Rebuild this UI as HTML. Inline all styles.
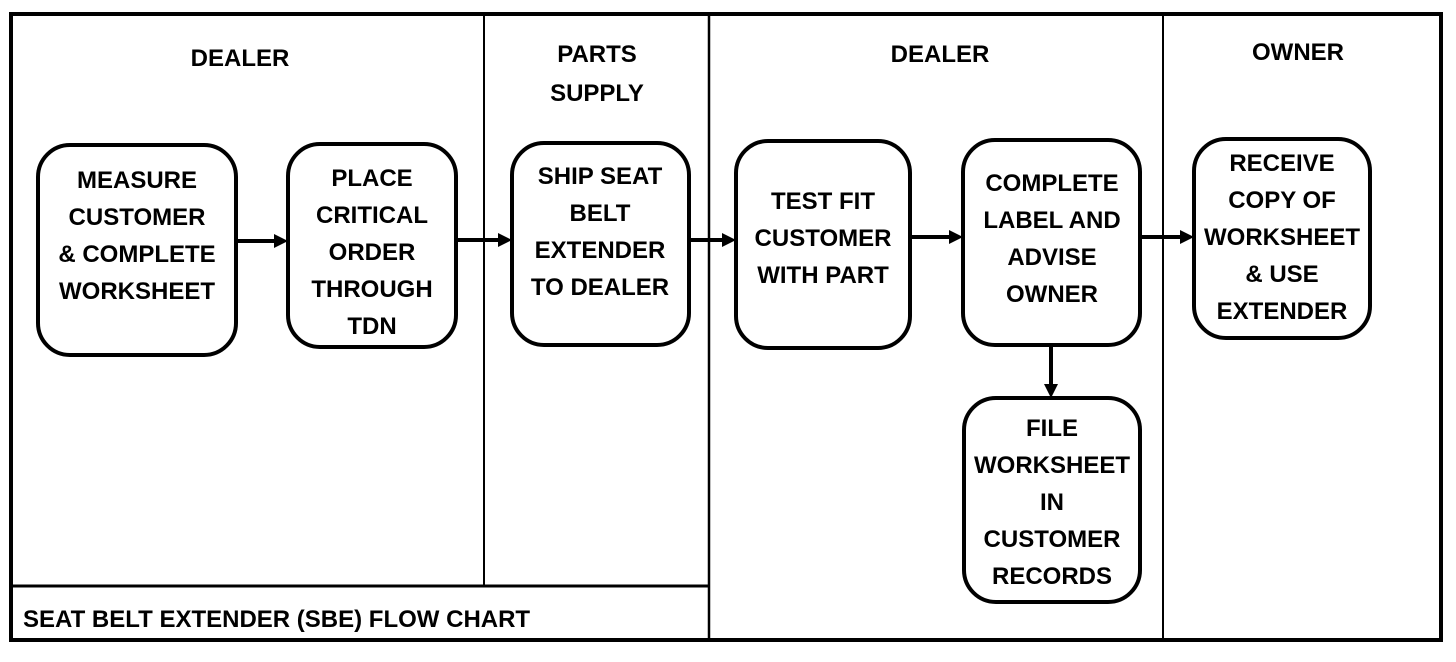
<!DOCTYPE html>
<html><head><meta charset="utf-8"><style>
html,body{margin:0;padding:0;background:#fff;}
svg{display:block;}
text{font-family:"Liberation Sans",Arial,sans-serif;font-weight:bold;font-size:24px;fill:#000;text-anchor:middle;}
</style></head><body>
<svg width="1456" height="662" viewBox="0 0 1456 662" xmlns="http://www.w3.org/2000/svg">
<rect x="11" y="14" width="1430" height="626" fill="none" stroke="#000" stroke-width="4"/>
<line x1="484" y1="14" x2="484" y2="585" stroke="#000" stroke-width="2"/>
<line x1="709" y1="14" x2="709" y2="640" stroke="#000" stroke-width="2.5"/>
<line x1="1163" y1="14" x2="1163" y2="640" stroke="#000" stroke-width="2"/>
<line x1="11" y1="586" x2="709" y2="586" stroke="#000" stroke-width="3"/>
<text x="240" y="66">DEALER</text>
<text x="597" y="62">PARTS</text>
<text x="597" y="101">SUPPLY</text>
<text x="940" y="62">DEALER</text>
<text x="1298" y="60">OWNER</text>
<text x="23" y="627" style="text-anchor:start">SEAT BELT EXTENDER  (SBE)  FLOW CHART</text>
<g fill="#fff" stroke="#000" stroke-width="4">
<rect x="38" y="145" width="198" height="210" rx="32"/>
<rect x="288" y="144" width="168" height="203" rx="32"/>
<rect x="512" y="143" width="177" height="202" rx="32"/>
<rect x="736" y="141" width="174" height="207" rx="32"/>
<rect x="963" y="140" width="177" height="205" rx="32"/>
<rect x="1194" y="139" width="176" height="199" rx="32"/>
<rect x="964" y="398" width="176" height="204" rx="32"/>
</g>
<g stroke="#000" stroke-width="4">
<line x1="236" y1="241" x2="276" y2="241"/>
<line x1="456" y1="240" x2="500" y2="240"/>
<line x1="689" y1="240" x2="724" y2="240"/>
<line x1="910" y1="237" x2="951" y2="237"/>
<line x1="1140" y1="237" x2="1182" y2="237"/>
<line x1="1051" y1="345" x2="1051" y2="386"/>
</g>
<g fill="#000">
<polygon points="288,241 274,234 274,248"/>
<polygon points="512,240 498,233 498,247"/>
<polygon points="736,240 722,233 722,247"/>
<polygon points="963,237 949,230 949,244"/>
<polygon points="1194,237 1180,230 1180,244"/>
<polygon points="1051,398 1044,384 1058,384"/>
</g>
<text x="137" y="188">MEASURE</text>
<text x="137" y="225">CUSTOMER</text>
<text x="137" y="262">&amp; COMPLETE</text>
<text x="137" y="299">WORKSHEET</text>
<text x="372" y="186">PLACE</text>
<text x="372" y="223">CRITICAL</text>
<text x="372" y="260">ORDER</text>
<text x="372" y="297">THROUGH</text>
<text x="372" y="334">TDN</text>
<text x="600" y="184">SHIP SEAT</text>
<text x="600" y="221">BELT</text>
<text x="600" y="258">EXTENDER</text>
<text x="600" y="295">TO DEALER</text>
<text x="823" y="209">TEST FIT</text>
<text x="823" y="246">CUSTOMER</text>
<text x="823" y="283">WITH PART</text>
<text x="1052" y="191">COMPLETE</text>
<text x="1052" y="228">LABEL AND</text>
<text x="1052" y="265">ADVISE</text>
<text x="1052" y="302">OWNER</text>
<text x="1282" y="171">RECEIVE</text>
<text x="1282" y="208">COPY OF</text>
<text x="1282" y="245">WORKSHEET</text>
<text x="1282" y="282">&amp; USE</text>
<text x="1282" y="319">EXTENDER</text>
<text x="1052" y="436">FILE</text>
<text x="1052" y="473">WORKSHEET</text>
<text x="1052" y="510">IN</text>
<text x="1052" y="547">CUSTOMER</text>
<text x="1052" y="584">RECORDS</text>
</svg>
</body></html>
